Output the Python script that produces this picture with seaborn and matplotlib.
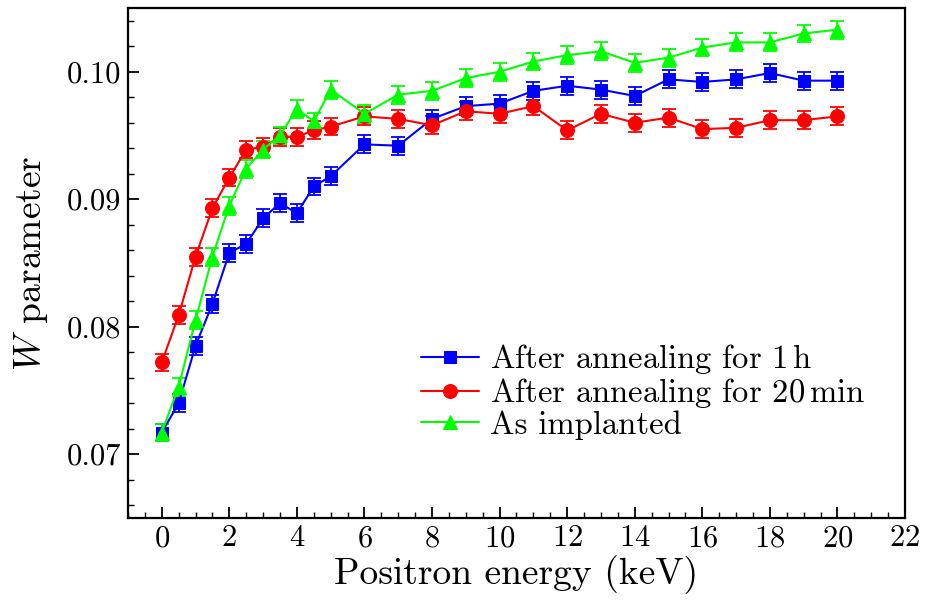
import numpy as np
import pandas as pd
import seaborn as sns
from matplotlib import pyplot as plt

# positron energy (keV)
energy = [0, 0.5, 1, 1.5, 2, 2.5, 3, 3.5, 4, 4.5, 5, 6, 7, 8, 9, 10,
          11, 12, 13, 14, 15, 16, 17, 18, 19, 20]

w_1h = [0.0717, 0.0740, 0.0785, 0.0818, 0.0858, 0.0865, 0.0885, 0.0897, 0.0889,
        0.0910, 0.0918, 0.0943, 0.0942, 0.0963, 0.0973, 0.0975, 0.0985, 0.0989,
        0.0986, 0.0981, 0.0994, 0.0992, 0.0994, 0.0999, 0.0993, 0.0993]
w_20min = [0.0772, 0.0809, 0.0855, 0.0893, 0.0917, 0.0939, 0.0941, 0.0949, 0.0949,
           0.0954, 0.0957, 0.0965, 0.0963, 0.0958, 0.0969, 0.0967, 0.0973, 0.0954,
           0.0967, 0.0960, 0.0964, 0.0955, 0.0956, 0.0962, 0.0962, 0.0965]
w_impl = [0.0717, 0.0753, 0.0805, 0.0855, 0.0895, 0.0924, 0.0939, 0.0950, 0.0971,
          0.0961, 0.0986, 0.0967, 0.0982, 0.0985, 0.0995, 0.1000, 0.1008, 0.1013,
          0.1016, 0.1007, 0.1011, 0.1019, 0.1023, 0.1023, 0.1030, 0.1033]
w_err = [0.0007] * len(energy)

labels = ["After annealing for 1$\\,$h", "After annealing for 20$\\,$min", "As implanted"]
series = [w_1h, w_20min, w_impl]
colors = ["#0000ff", "#ff0000", "#00ff00"]
markers = ["s", "o", "^"]
msizes = [9, 10, 10]

sns.set_style("ticks")
plt.rcParams['font.family'] = ['cmr10', 'DejaVu Serif']
plt.rcParams['mathtext.fontset'] = 'cm'
plt.rcParams['axes.formatter.use_mathtext'] = True
plt.rcParams['text.color'] = 'black'
plt.rcParams['axes.labelcolor'] = 'black'
plt.rcParams['xtick.color'] = 'black'
plt.rcParams['ytick.color'] = 'black'
plt.rcParams['axes.edgecolor'] = 'black'

fig = plt.figure(figsize=(9.3, 6), dpi=100)
ax = fig.add_axes([0.1376, 0.1367, 0.8355, 0.85])

for lab, vals, c, m, ms in zip(labels, series, colors, markers, msizes):
    df = pd.DataFrame({"E": energy, "W": vals})
    ax.errorbar(energy, vals, yerr=w_err, fmt="none", ecolor=c, elinewidth=1.3,
                capsize=5, capthick=1.3, zorder=2)
    sns.lineplot(data=df, x="E", y="W", ax=ax, color=c, marker=m, markersize=ms,
                 markeredgecolor=c, linewidth=1.5, label=lab, zorder=3)

ax.set_xlim(-1, 22)
ax.set_ylim(0.065, 0.105)
ax.set_xticks(np.arange(0, 23, 2))
ax.set_xticks(np.arange(-1, 22.1, 0.5), minor=True)
ax.set_yticks([0.07, 0.08, 0.09, 0.10])
ax.set_yticks(np.arange(0.066, 0.1049, 0.002), minor=True)
ax.yaxis.set_major_formatter(plt.FormatStrFormatter("%.2f"))
ax.tick_params(axis="both", which="major", direction="in", length=8, width=1.3,
               labelsize=22, pad=5)
ax.tick_params(axis="both", which="minor", direction="in", length=4, width=1.0)
for s in ax.spines.values():
    s.set_linewidth(1.6)

ax.set_xlabel("Positron energy (keV)", fontsize=27, labelpad=2)
ax.set_ylabel("$W$ parameter", fontsize=27, labelpad=12)

leg = ax.legend(loc="upper left", bbox_to_anchor=(0.36, 0.37), frameon=False,
                fontsize=23.5, handlelength=1.8, handletextpad=0.33, labelspacing=0.0,
                borderaxespad=0)

fig.savefig("out.png", dpi=100)
